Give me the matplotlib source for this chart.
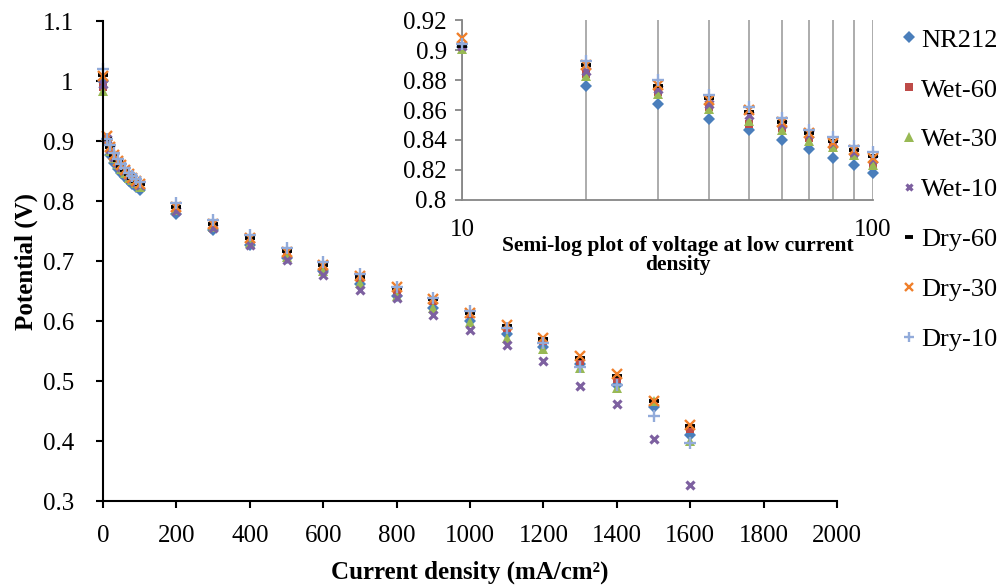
import numpy as np
import matplotlib
matplotlib.use('Agg')
import matplotlib.pyplot as plt
from matplotlib.ticker import FixedLocator, FuncFormatter, NullFormatter

plt.rcParams['font.family'] = ['Liberation Serif', 'DejaVu Serif']

# current density [mA/cm2]
current = [0, 10, 20, 30, 40, 50, 60, 70, 80, 90, 100,
           200, 300, 400, 500, 600, 700, 800, 900, 1000, 1100, 1200, 1300, 1400, 1500, 1600]

# cell potential [V]
nr212 = [1.000, 0.902, 0.876, 0.864, 0.854, 0.847, 0.840, 0.834, 0.828, 0.823, 0.818,
         0.779, 0.752, 0.727, 0.705, 0.683, 0.662, 0.641, 0.622, 0.600, 0.578, 0.557, 0.528, 0.493, 0.457, 0.410]
wet_60 = [0.990, 0.902, 0.884, 0.872, 0.862, 0.851, 0.848, 0.841, 0.836, 0.830, 0.824,
          0.789, 0.760, 0.735, 0.713, 0.690, 0.671, 0.652, 0.633, 0.611, 0.588, 0.566, 0.533, 0.504, 0.465, 0.420]
wet_30 = [0.983, 0.901, 0.883, 0.871, 0.861, 0.853, 0.847, 0.839, 0.835, 0.830, 0.823,
          0.785, 0.757, 0.730, 0.707, 0.684, 0.663, 0.642, 0.622, 0.599, 0.571, 0.554, 0.521, 0.488, 0.467, 0.400]
wet_10 = [0.995, 0.903, 0.886, 0.874, 0.864, 0.857, 0.851, 0.844, 0.838, 0.832, 0.827,
          0.783, 0.755, 0.727, 0.701, 0.677, 0.652, 0.639, 0.610, 0.585, 0.560, 0.534, 0.492, 0.462, 0.403, 0.326]
dry_60 = [1.010, 0.903, 0.890, 0.876, 0.868, 0.859, 0.852, 0.845, 0.839, 0.833, 0.829,
          0.790, 0.762, 0.738, 0.716, 0.693, 0.674, 0.655, 0.636, 0.613, 0.591, 0.570, 0.539, 0.509, 0.467, 0.425]
dry_30 = [1.008, 0.908, 0.890, 0.877, 0.867, 0.860, 0.852, 0.845, 0.838, 0.833, 0.828,
          0.790, 0.762, 0.738, 0.715, 0.693, 0.675, 0.656, 0.636, 0.614, 0.593, 0.572, 0.541, 0.512, 0.467, 0.427]
dry_10 = [1.020, 0.904, 0.893, 0.880, 0.870, 0.862, 0.855, 0.847, 0.842, 0.836, 0.832,
          0.796, 0.768, 0.743, 0.721, 0.699, 0.678, 0.657, 0.638, 0.616, 0.588, 0.563, 0.524, 0.493, 0.441, 0.397]

labels = ['NR212', 'Wet-60', 'Wet-30', 'Wet-10', 'Dry-60', 'Dry-30', 'Dry-10']
series = [nr212, wet_60, wet_30, wet_10, dry_60, dry_30, dry_10]

# marker styles (Excel-like)
styles = [dict(marker='D', color='#4A7EBB', ms=6.3, mew=0),
          dict(marker='s', color='#BE4B48', ms=6.2, mew=0),
          dict(marker='^', color='#98B954', ms=7.5, mew=0),
          dict(marker='x', color='#7D60A0', ms=5.5, mew=2.3),
          dict(marker='_', color='black', ms=6.5, mew=2.8),
          dict(marker='x', color='#F07F2A', ms=6.5, mew=1.7),
          dict(marker='+', color='#92ABDA', ms=8.5, mew=1.7)]

fmt = FuncFormatter(lambda v, p: '{:g}'.format(round(v, 3)))

fig = plt.figure(figsize=(10.03, 5.87), dpi=100)
ax = fig.add_axes([0.1027, 0.1465, 0.7318, 0.8177])

for y, lab, st in zip(series, labels, styles):
    ax.plot(current, y, ls='none', label=lab, clip_on=False, **st)

ax.set_xlim(0, 2000)
ax.set_ylim(0.3, 1.1)
ax.set_xticks(np.arange(0, 2001, 200))
ax.set_yticks(np.arange(0.3, 1.101, 0.1))
ax.yaxis.set_major_formatter(fmt)
for s in ['top', 'right']:
    ax.spines[s].set_visible(False)
for s in ['left', 'bottom']:
    ax.spines[s].set_linewidth(1.5)
ax.tick_params(axis='both', direction='out', length=5, width=1.5, labelsize=18)
ax.tick_params(axis='y', pad=16)
ax.tick_params(axis='x', pad=12)
ax.set_xlabel('Current density (mA/cm²)', fontsize=18, fontweight='bold', labelpad=10)
ax.set_ylabel('Potential (V)', fontsize=18, fontweight='bold', labelpad=3)

leg = ax.legend(loc='upper left', bbox_to_anchor=(0.8983, 0.952), bbox_transform=fig.transFigure,
                frameon=False, fontsize=19, handlelength=0.6, handletextpad=0.16,
                labelspacing=1.0, borderaxespad=0, borderpad=0, markerscale=0.9)

# inset: semi-log plot at low current density
ins = fig.add_axes([0.4606, 0.6593, 0.4098, 0.3066])
for y, lab, st in zip(series, labels, styles):
    x_low = [c for c in current if 10 <= c <= 100]
    y_low = [v for c, v in zip(current, y) if 10 <= c <= 100]
    ins.plot(x_low, y_low, ls='none', clip_on=False, zorder=3, **st)

ins.set_xscale('log')
ins.set_xlim(10, 100)
ins.set_ylim(0.8, 0.92)
ins.set_yticks(np.arange(0.8, 0.921, 0.02))
ins.yaxis.set_major_formatter(fmt)
ins.xaxis.set_major_locator(FixedLocator([10, 100]))
ins.xaxis.set_major_formatter(FuncFormatter(lambda v, p: '{:g}'.format(v)))
ins.xaxis.set_minor_locator(FixedLocator([20, 30, 40, 50, 60, 70, 80, 90]))
ins.xaxis.set_minor_formatter(NullFormatter())
ins.grid(True, axis='x', which='both', color='#A6A6A6', lw=1.3)
for s in ['top', 'right']:
    ins.spines[s].set_visible(False)
for s in ['left', 'bottom']:
    ins.spines[s].set_color('#868686')
    ins.spines[s].set_linewidth(1.3)
ins.tick_params(axis='x', which='both', length=0, labelsize=18, pad=14)
ins.tick_params(axis='y', direction='out', length=5, width=1.3, color='#868686',
                labelsize=18, pad=6)
ins.set_xlabel('Semi-log plot of voltage at low current\ndensity', fontsize=15.5,
               fontweight='bold', linespacing=0.95)
ins.xaxis.set_label_coords(0.526, -0.2)

fig.savefig('out.png', dpi=100)
